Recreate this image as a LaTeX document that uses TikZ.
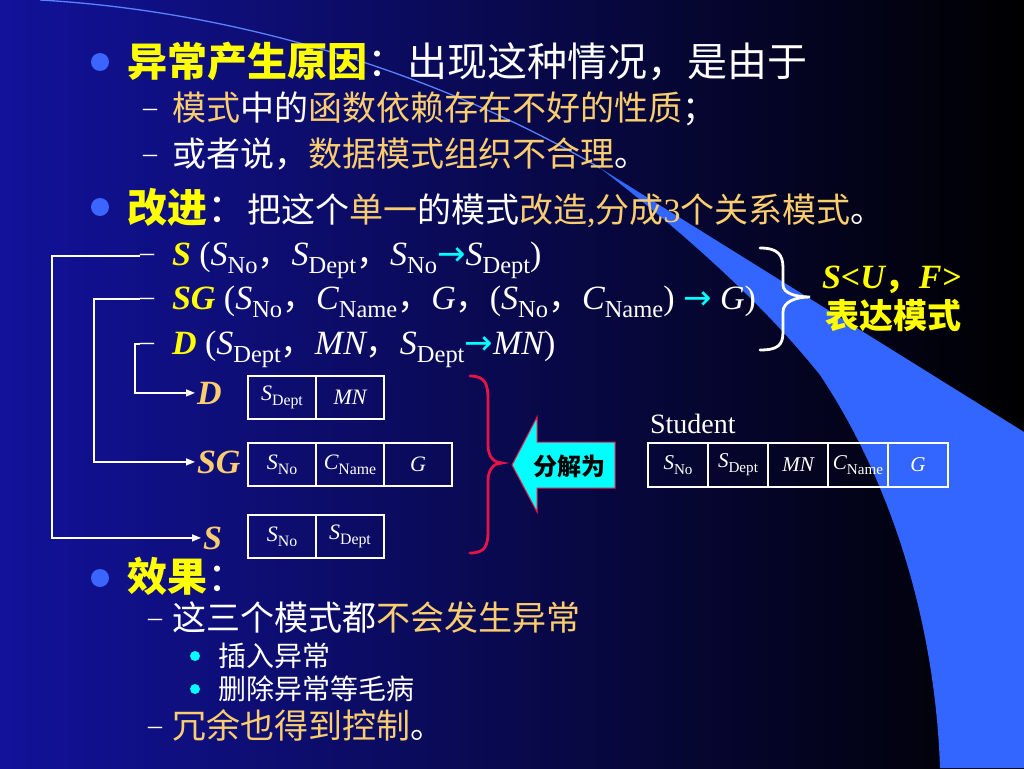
\documentclass[tikz,border=0pt]{standalone}
\usepackage{fontspec}
\setmainfont{Liberation Serif}
\newfontfamily\cjk{Noto Sans CJK SC}
\newfontfamily\sym{DejaVu Sans}
\usetikzlibrary{arrows.meta}
\makeatletter
\newcommand\ssub[1]{\raisebox{-0.24em}{\fontsize{\dimexpr0.72\dimexpr\f@size pt\relax\relax}{0pt}\selectfont\upshape #1}}
\makeatother
\newcommand\iv[2]{{\itshape #1}\ssub{#2}}
\newcommand\arr{{\sym\color{cyn}→}}
\newcommand\szA{\fontsize{40}{48}\selectfont}
\newcommand\szB{\fontsize{34}{40}\selectfont}
\newcommand\szC{\fontsize{28}{34}\selectfont}
\newcommand\szD{\fontsize{22}{26}\selectfont}
\newcommand\szE{\fontsize{24}{28}\selectfont}
\newcommand\szF{\fontsize{21}{25}\selectfont}
\definecolor{ylw}{RGB}{255,255,0}
\definecolor{org}{RGB}{250,205,110}
\definecolor{bul}{RGB}{60,100,255}
\definecolor{cyn}{RGB}{0,255,255}
\definecolor{swo}{RGB}{51,102,255}
\definecolor{swl}{RGB}{90,130,255}
\definecolor{bgl}{RGB}{18,18,155}
\definecolor{bgm}{RGB}{8,8,98}
\definecolor{redb}{RGB}{230,20,70}
\begin{document}
\begin{tikzpicture}[x=1pt,y=-1pt,
  txt/.style={anchor=base west, inner sep=0pt, outer sep=0pt, text=white},
  dsh/.style={txt, font=\szC, yshift=4pt},
  bullet/.style={circle, fill=bul, minimum size=18pt, inner sep=0pt},
  dot/.style={circle, fill=cyn, minimum size=10pt, inner sep=0pt},
  lbl/.style={txt, font={\szB\bfseries\itshape}, text=org},
  conn/.style={draw=white, line width=1.3pt, -{Triangle[length=9pt,width=7pt]}, shorten >=2pt},
  cell/.style={draw=white, line width=2.5pt, inner sep=0pt, outer sep=0pt, anchor=north west,
    minimum width=68pt, minimum height=43pt, text=white, font=\szD},
  scell/.style={cell, minimum width=60pt, minimum height=44pt, font=\szF},
  brace/.style={line width=2.8pt, line cap=round}
]
\useasboundingbox (0,0) rectangle (1024,768);
\shade[left color=bgl, middle color=bgm, right color=black] (0,0) rectangle (1024,768);
% swoosh
\fill[swo] (600,168) -- (1024,432) -- (1024,768) -- (940,768)
  .. controls (935,620) and (890,480) .. (820,375)
  .. controls (760,300) and (680,230) .. (600,168) -- cycle;
\draw[swl, line width=1.3pt] (40,0) .. controls (250,12) and (450,80) .. (600,168);

% first block
\node[bullet] (b1) at (100,62) {};
\node[txt] (t1) at (127,76) {\szA\cjk{\bfseries\color{ylw}异常产生原因}：出现这种情况，是由于};
\node[dsh] (m2) at (143,120) {–};
\node[txt] (t2) at (172,120) {\szB\cjk{\color{org}模式}中的{\color{org}函数依赖存在不好的性质}；};
\node[dsh] (m3) at (143,166) {–};
\node[txt] (t3) at (172,166) {\szB\cjk 或者说，{\color{org}数据模式组织不合理}。};
\node[bullet] (b2) at (100,207) {};
\node[txt] (t4) at (127,222) {\szA\cjk{\bfseries\color{ylw}改进}：\szB 把这个{\color{org}单一}的模式{\color{org}改造{\rmfamily,}分成{\rmfamily 3}个关系模式}。};

% schema rows
\node[dsh] (dS) at (140,265) {–};
\node[txt] (rS) at (172,265) {\szB{\bfseries\itshape\color{ylw}S} (\iv{S}{No}{\cjk ，}\iv{S}{Dept}{\cjk ，}\iv{S}{No}\arr\iv{S}{Dept})};
\node[dsh] (dSG) at (140,309) {–};
\node[txt] (rSG) at (172,309) {\szB{\bfseries\itshape\color{ylw}SG} (\iv{S}{No}{\cjk ，}\iv{C}{Name}{\cjk ，}{\itshape G}{\cjk ，}(\iv{S}{No}{\cjk ，}\iv{C}{Name}) \arr{} {\itshape G})};
\node[dsh] (dD) at (140,354) {–};
\node[txt] (rD) at (172,354) {\szB{\bfseries\itshape\color{ylw}D} (\iv{S}{Dept}{\cjk ，}{\itshape MN}{\cjk ，}\iv{S}{Dept}\arr{\itshape MN})};

% white brace and label
\draw[brace, white] (760,248) .. controls (778,248) and (783,255) .. (783,268) -- (783,285)
  .. controls (783,293) and (795,297) .. (810,297)
  .. controls (795,297) and (783,302) .. (783,312) -- (783,332)
  .. controls (783,345) and (778,350) .. (760,350);
\node[txt, font={\szB\bfseries\itshape}, text=ylw] (suf) at (822,288) {S<U{\cjk ，}F>};
\node[txt, font={\szB\cjk\bfseries}, text=ylw] (bd) at (825,328) {表达模式};

% labels
\node[lbl] (lD) at (197,404) {D};
\node[lbl] (lSG) at (197,473) {SG};
\node[lbl] (lS) at (203,549) {S};

% connectors
\coordinate (cS) at (140,256);
\coordinate (cSG) at (140,299);
\coordinate (cD) at (140,344);
\draw[conn] (cS) -- ++(-88,0) |- (lS.west);
\draw[conn] (cSG) -- ++(-46,0) |- (lSG.west);
\draw[conn] (cD) -- ++(-5,0) |- (lD.west);

% tables
\node[cell] (D1) at (248,376) {\iv{S}{Dept}};
\node[cell] (D2) at (D1.north east) {\itshape MN};
\node[cell] (G1) at (248,443) {\iv{S}{No}};
\node[cell] (G2) at (G1.north east) {\iv{C}{Name}};
\node[cell] (G3) at (G2.north east) {\itshape G};
\node[cell] (S1) at (248,515) {\iv{S}{No}};
\node[cell] (S2) at (S1.north east) {\iv{S}{Dept}};

% red brace
\draw[brace, redb] (470,376) .. controls (486,376) and (488,385) .. (488,400) -- (488,445)
  .. controls (488,458) and (495,463) .. (502,463)
  .. controls (495,463) and (488,468) .. (488,481) -- (488,530)
  .. controls (488,545) and (486,553) .. (470,553);

% decomposition arrow
\draw[fill=cyn, draw=redb, line width=1pt] (512,465) -- (537,417) -- (537,442) -- (615,442) -- (615,488) -- (537,488) -- (537,512) -- cycle;
\node[font={\szE\cjk\bfseries}, text=black, inner sep=0pt] (fj) at (569,466) {分解为};

% Student table
\node[txt, font=\szC] (stu) at (650,433) {Student};
\node[scell] (U1) at (648,443) {\iv{S}{No}};
\node[scell] (U2) at (U1.north east) {\iv{S}{Dept}};
\node[scell] (U3) at (U2.north east) {\itshape MN};
\node[scell] (U4) at (U3.north east) {\iv{C}{Name}};
\node[scell] (U5) at (U4.north east) {\itshape G};

% effect block
\node[bullet] (b3) at (100,578) {};
\node[txt] (t8) at (127,591) {\szA\cjk{\bfseries\color{ylw}效果}：};
\node[dsh] (m9) at (148,630) {–};
\node[txt] (t9) at (172,630) {\szB\cjk 这三个模式都{\color{org}不会发生异常}};
\node[dot] (c1) at (195,656) {};
\node[txt] (t10) at (218,666) {\szC\cjk 插入异常};
\node[dot] (c2) at (195,689) {};
\node[txt] (t11) at (218,699) {\szC\cjk 删除异常等毛病};
\node[dsh] (m12) at (148,738) {–};
\node[txt] (t12) at (172,738) {\szB\cjk{\color{org}冗余也得到控制}。};
\end{tikzpicture}
\end{document}
